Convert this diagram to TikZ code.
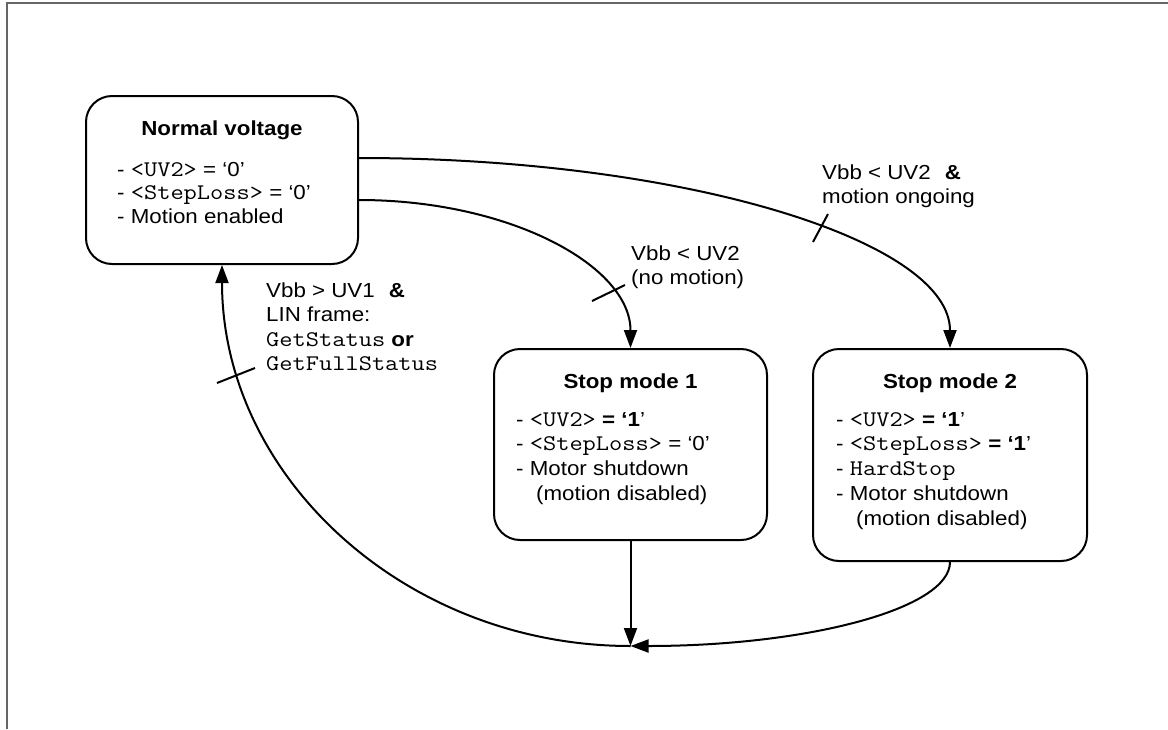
\documentclass[tikz,border=0pt]{standalone}
\usepackage{fontspec}
\setmainfont{Liberation Sans}[FakeStretch=1.1]
\setmonofont{Latin Modern Mono}[FakeStretch=1.15, Scale=1.1]
\usetikzlibrary{arrows.meta}
\begin{document}
\begin{tikzpicture}[x=1pt,y=-1pt,
  every node/.style={font=\fontsize{20.3}{24.5}\selectfont},
  state/.style={draw, line width=2pt, rounded corners=26pt, inner sep=0pt},
  stitle/.style={anchor=base, inner sep=0pt, font=\fontsize{20.3}{24.5}\selectfont\bfseries},
  slist/.style={anchor=base west, inner sep=0pt},
  conn/.style={line width=2pt, -{Triangle[length=18pt,width=13pt]}},
  tickmark/.style={line width=2pt},
  lbl/.style={anchor=base west, inner sep=0pt}
]
\useasboundingbox (0,0) rectangle (1168,729);
\draw[line width=2pt, color=black!60] (7,729) -- (7,3) -- (1168,3);

% Normal voltage
\node[state, minimum width=272pt, minimum height=168pt] (nv) at (222,180) {};
\node[stitle] (nvt) at ([yshift=-40pt]nv.north) {Normal voltage};
\node[slist, font=\fontsize{20.3}{23.7}\selectfont] (nvl) at ([xshift=32pt,yshift=-81pt]nv.north west)
  {\begin{tabular}[t]{@{}l@{}}- \texttt{<UV2>} = ‘0’\\- \texttt{<StepLoss>} = ‘0’\\- Motion enabled\end{tabular}};

% Stop mode 1
\node[state, minimum width=273pt, minimum height=191pt] (s1) at (630.5,444.5) {};
\node[stitle] (s1t) at ([yshift=-40pt]s1.north) {Stop mode 1};
\node[slist, font=\fontsize{20.3}{24.8}\selectfont] (s1l) at ([xshift=23pt,yshift=-78pt]s1.north west)
  {\begin{tabular}[t]{@{}l@{}}- \texttt{<UV2>} \textbf{= ‘1}’\\- \texttt{<StepLoss>} = ‘0’\\- Motor shutdown\\\hspace*{20pt}(motion disabled)\end{tabular}};

% Stop mode 2
\node[state, minimum width=274pt, minimum height=212pt] (s2) at (950,455) {};
\node[stitle] (s2t) at ([yshift=-40pt]s2.north) {Stop mode 2};
\node[slist, font=\fontsize{20.3}{24.8}\selectfont] (s2l) at ([xshift=24pt,yshift=-78pt]s2.north west)
  {\begin{tabular}[t]{@{}l@{}}- \texttt{<UV2>} \textbf{= ‘1}’\\- \texttt{<StepLoss>} \textbf{= ‘1}’\\- \texttt{HardStop}\\- Motor shutdown\\\hspace*{20pt}(motion disabled)\end{tabular}};

\coordinate (m) at (630.5,646);

\draw[conn] ([yshift=22pt]nv.east) .. controls +(326,0) and +(0,-107) .. (s2.north);
\draw[conn] ([yshift=-20pt]nv.east) .. controls +(151,0) and +(0,-82) .. (s1.north);
\draw[conn] (s1.south) -- (m);
\draw[conn] (s2.south) .. controls +(0,47) and +(176,0) .. (m);
\draw[conn] (m) .. controls +(-226,0) and +(0,211) .. (nv.south);

\draw[tickmark] (813,242) -- (828,214);
\draw[tickmark] (592,301) -- (625,285);
\draw[tickmark] (217,383) -- (255,368);

\node[lbl] (l1) at (822,179) {\begin{tabular}[t]{@{}l@{}}Vbb < UV2\hspace{14pt}\textbf{\&}\\motion ongoing\end{tabular}};
\node[lbl] (l2) at (631,260) {\begin{tabular}[t]{@{}l@{}}Vbb < UV2\\(no motion)\end{tabular}};
\node[lbl] (l3) at (266,297) {\begin{tabular}[t]{@{}l@{}}Vbb > UV1\hspace{14pt}\textbf{\&}\\LIN frame:\\\texttt{GetStatus} \textbf{or}\\\texttt{GetFullStatus}\end{tabular}};
\end{tikzpicture}
\end{document}
